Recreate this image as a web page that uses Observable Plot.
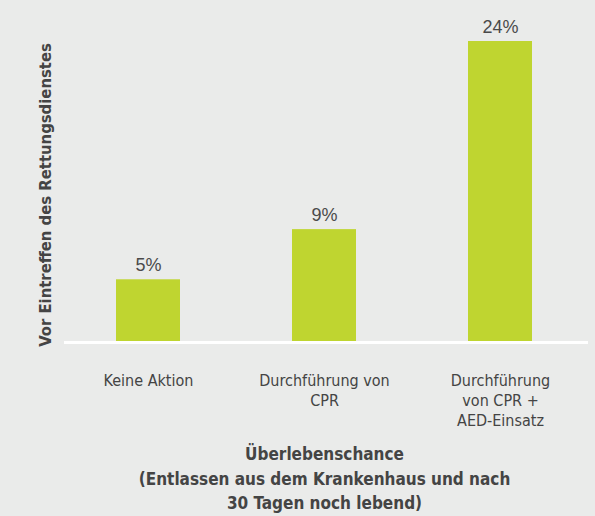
<!DOCTYPE html>
<html>
<head>
<meta charset="utf-8">
<script src="https://cdn.jsdelivr.net/npm/d3@7"></script>
<script src="https://cdn.jsdelivr.net/npm/@observablehq/plot@0.6"></script>
<style>
  html, body { margin: 0; padding: 0; background: #eaebea; }
</style>
</head>
<body>
<div id="chart"></div>
<script>
const categories = ["Keine Aktion", "Durchführung von CPR", "Durchführung von CPR + AED-Einsatz"];
const tickLabels = ["Keine Aktion", "Durchführung von\nCPR", "Durchführung\nvon CPR +\nAED-Einsatz"];
const values = [5, 9, 24];
const valueLabels = ["5%", "9%", "24%"];
const yTitle = "Vor Eintreffen des Rettungsdienstes";
const xTitle = "Überlebenschance\n(Entlassen aus dem Krankenhaus und nach\n30 Tagen noch lebend)";

const data = categories.map((c, i) => ({cat: c, value: values[i], label: valueLabels[i]}));
const narrow = "'Liberation Sans Narrow', 'DejaVu Sans Condensed', 'Roboto Condensed', sans-serif";

const chart = Plot.plot({
  width: 595,
  height: 516,
  marginTop: 41,
  marginBottom: 174,
  marginLeft: 60,
  marginRight: 7,
  style: {background: "#eaebea", fontFamily: narrow, color: "#444"},
  x: {domain: categories, paddingInner: 0.636, paddingOuter: 0.318, axis: null},
  y: {domain: [0, 24], axis: null},
  marks: [
    Plot.barY(data, {x: "cat", y: "value", fill: "#bfd530"}),
    Plot.ruleY([0], {stroke: "#ffffff", strokeWidth: 3, insetLeft: 4}),
    Plot.text(data, {x: "cat", y: "value", text: "label", lineAnchor: "bottom", dy: -9,
      fontFamily: "'Liberation Sans', Arial, sans-serif", fontSize: 18, fill: "#4a4a4a"}),
    Plot.axisX({domain: categories, tickSize: 0, tickPadding: 29, tickFormat: (d) => tickLabels[categories.indexOf(d)],
      fontSize: 16, lineHeight: 1.25, fill: "#444", label: null, lineWidth: 100}),
    Plot.text([yTitle], {frameAnchor: "left", textAnchor: "middle", rotate: -90, dx: -15, dy: 3, text: d => d,
      fontSize: 16.5, fontWeight: "bold", fill: "#444"}),
    Plot.text([xTitle], {frameAnchor: "bottom", lineAnchor: "top", dy: 100, text: d => d,
      fontSize: 17, fontWeight: "bold", lineHeight: 1.45, fill: "#444"})
  ]
});
document.getElementById("chart").appendChild(chart);
</script>
</body>
</html>
